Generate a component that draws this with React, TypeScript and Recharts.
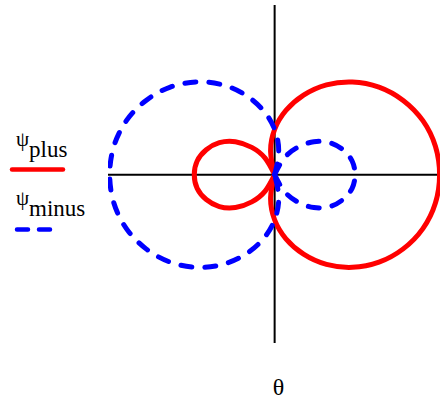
import { LineChart, Line, XAxis, YAxis, ReferenceLine } from "recharts"

// polar samples: angle in degrees, radius read along each ray
const THETA_DEG = [
  0, 10, 20, 30, 40, 50, 60, 70, 80, 90, 100, 110, 120, 130, 140, 150, 160, 170,
  180, 190, 200, 210, 220, 230, 240, 250, 260, 270, 280, 290, 300, 310, 320,
  330, 340, 350, 360,
]

const PSI_PLUS = [
  3.9, 3.86, 3.73, 3.51, 3.22, 2.86, 2.45, 2.0, 1.54, 1.07, 0.55, 0.0, 0.45,
  0.84, 1.21, 1.51, 1.72, 1.86, 1.9, 1.86, 1.72, 1.51, 1.21, 0.84, 0.45, 0.0,
  0.55, 1.07, 1.54, 2.0, 2.45, 2.86, 3.22, 3.51, 3.73, 3.86, 3.9,
]

const PSI_MINUS = [
  1.9, 1.86, 1.72, 1.51, 1.21, 0.84, 0.45, 0.0, 0.55, 1.07, 1.54, 2.0, 2.45,
  2.86, 3.22, 3.51, 3.73, 3.86, 3.9, 3.86, 3.73, 3.51, 3.22, 2.86, 2.45, 2.0,
  1.54, 1.07, 0.55, 0.0, 0.45, 0.84, 1.21, 1.51, 1.72, 1.86, 1.9,
]

const RED = "#ff0000"
const BLUE = "#0000ff"
const SERIF = "Liberation Serif"

type Pt = { x: number; y: number }

function toCartesian(radii: number[]): Pt[] {
  return THETA_DEG.map((deg, i) => {
    const t = (deg * Math.PI) / 180
    return { x: radii[i] * Math.cos(t), y: radii[i] * Math.sin(t) }
  })
}

// each curve touches the origin twice; split it there into two lobes
// so the spline stays smooth inside a lobe and keeps the cusp at r = 0
function lobes(radii: number[]): Pt[][] {
  const pts = toCartesian(radii)
  const zeros = radii.map((r, i) => (r === 0 ? i : -1)).filter((i) => i >= 0)
  const [a, b] = zeros
  const inner = pts.slice(a, b + 1)
  const outer = pts.slice(b).concat(pts.slice(1, a + 1))
  return [inner, outer]
}

const plusLobes = lobes(PSI_PLUS)
const minusLobes = lobes(PSI_MINUS)

function Label({ x, y, size, children, anchor = "start" }: {
  x: number
  y: number
  size: number
  children: string
  anchor?: "start" | "middle"
}) {
  return (
    <text
      x={x}
      y={y}
      textAnchor={anchor}
      style={{ fontFamily: SERIF, fontSize: `${size}px`, fill: "#000" }}
    >
      {children}
    </text>
  )
}

export default function App() {
  return (
    <div style={{ position: "absolute", left: 0, top: 0, width: 442, height: 401, background: "#fff" }}>
      <LineChart
        width={442}
        height={401}
        margin={{ top: 5, right: 2, bottom: 58, left: 108 }}
      >
        <XAxis type="number" dataKey="x" domain={[-3.94, 3.91]} allowDataOverflow hide />
        <YAxis type="number" dataKey="y" domain={[-3.98, 4.01]} allowDataOverflow hide />
        <ReferenceLine x={0} stroke="#000" strokeWidth={2} />
        <ReferenceLine y={0} stroke="#000" strokeWidth={2} />
        {plusLobes.map((lobe, i) => (
          <Line
            key={`plus-${i}`}
            data={lobe}
            dataKey="y"
            type="natural"
            stroke={RED}
            strokeWidth={5}
            strokeLinejoin="round"
            dot={false}
            activeDot={false}
            isAnimationActive={false}
          />
        ))}
        {minusLobes.map((lobe, i) => (
          <Line
            key={`minus-${i}`}
            data={lobe}
            dataKey="y"
            type="natural"
            stroke={BLUE}
            strokeWidth={5}
            strokeDasharray="11 13"
            strokeLinecap="round"
            strokeLinejoin="round"
            dot={false}
            activeDot={false}
            isAnimationActive={false}
          />
        ))}
      </LineChart>

      {/* legend on the left and the angle label under the plot */}
      <svg
        width={442}
        height={401}
        style={{ position: "absolute", left: 0, top: 0, pointerEvents: "none" }}
      >
        <Label x={16} y={146} size={21}>ψ</Label>
        <Label x={29} y={157} size={23}>plus</Label>
        <line x1={12} y1={169.5} x2={63} y2={169.5} stroke={RED} strokeWidth={4.5} strokeLinecap="round" />

        <Label x={16} y={205} size={21}>ψ</Label>
        <Label x={29} y={216} size={23}>minus</Label>
        <line
          x1={17}
          y1={229.5}
          x2={51}
          y2={229.5}
          stroke={BLUE}
          strokeWidth={4.5}
          strokeDasharray="11 11"
          strokeLinecap="round"
        />

        <Label x={278.5} y={395} size={24} anchor="middle">θ</Label>
      </svg>
    </div>
  )
}
